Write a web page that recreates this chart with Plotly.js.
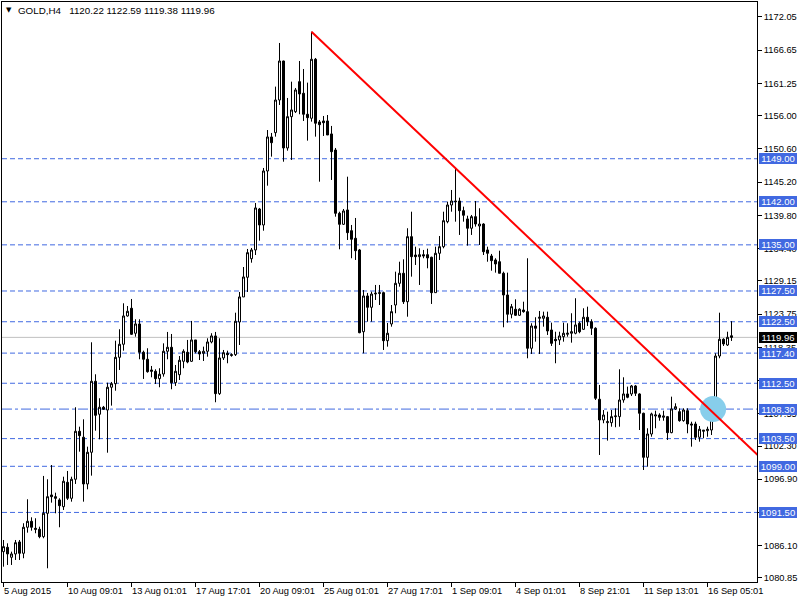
<!DOCTYPE html>
<html>
<head>
<meta charset="utf-8">
<script src="https://cdn.plot.ly/plotly-3.0.1.min.js"></script>
<style>html,body{margin:0;padding:0;background:#fff;}#chart{width:800px;height:600px;}</style>
</head>
<body>
<div id="chart"></div>
<script>
// ---- Data (GOLD, H4) ----
const openP = [1085.12,1085.83,1084.21,1084.75,1086.70,1084.86,1089.09,1090.06,1088.92,1088.76,
1087.56,1091.36,1094.34,1094.06,1093.53,1092.44,1096.40,1093.80,1096.89,1104.69,
1103.72,1096.13,1101.28,1112.82,1107.46,1108.60,1108.15,1111.85,1112.43,1116.72,
1118.84,1123.44,1124.69,1120.63,1122.14,1117.54,1116.40,1114.66,1114.45,1113.25,
1114.01,1117.70,1118.35,1112.59,1113.89,1116.07,1117.54,1116.07,1119.54,1117.63,
1117.37,1117.70,1119.21,1120.19,1110.81,1116.61,1117.37,1117.15,1117.15,1122.46,
1126.53,1129.73,1132.75,1134.17,1140.83,1138.23,1147.01,1152.54,1153.24,1158.55,
1164.89,1150.75,1155.84,1156.65,1161.53,1159.64,1156.23,1155.58,1165.17,1154.98,
1155.14,1155.14,1153.03,1150.42,1140.13,1138.34,1140.67,1137.30,1136.07,1134.17,
1120.88,1126.69,1124.85,1127.01,1127.23,1127.23,1119.42,1122.14,1125.22,1128.75,
1130.38,1125.76,1136.33,1133.35,1133.08,1133.40,1133.40,1132.98,1127.23,1133.63,
1134.70,1138.77,1141.48,1142.13,1142.13,1140.56,1139.21,1137.70,1139.58,1138.07,
1138.39,1134.17,1133.19,1132.54,1132.26,1130.38,1126.85,1123.72,1124.53,1123.55,
1124.41,1124.14,1118.19,1121.81,1123.06,1123.06,1123.23,1121.16,1119.65,1119.54,
1120.07,1120.46,1120.63,1120.63,1122.25,1121.27,1123.23,1122.51,1121.44,1109.90,
1106.53,1106.09,1106.09,1107.07,1107.07,1109.78,1110.76,1110.76,1112.06,1110.76,
1107.62,1100.46,1104.25,1107.18,1107.34,1106.97,1107.07,1104.47,1108.32,1107.88,
1106.42,1108.04,1105.88,1105.88,1103.72,1104.69,1104.79,1104.90,1108.27,1116.93,
1119.65,1118.72,1120.22];
const highP = [1087.02,1086.48,1085.12,1087.02,1087.02,1089.74,1093.64,1090.71,1090.55,1089.18,
1097.43,1096.89,1099.21,1094.71,1093.80,1097.31,1098.24,1097.31,1108.60,1105.44,
1106.64,1102.19,1119.16,1113.96,1110.06,1108.81,1112.59,1112.71,1119.42,1121.28,
1125.50,1125.06,1126.20,1122.90,1122.90,1117.80,1118.19,1115.31,1114.77,1114.94,
1118.99,1120.84,1120.51,1115.47,1116.93,1118.02,1119.54,1122.63,1119.54,1117.91,
1118.45,1119.81,1120.63,1120.84,1119.81,1117.91,1117.80,1117.37,1123.97,1127.34,
1131.40,1134.33,1134.49,1141.81,1141.00,1147.50,1153.67,1153.19,1160.72,1167.82,
1164.94,1158.88,1161.53,1160.50,1164.89,1163.59,1161.37,1169.66,1165.38,1155.30,
1155.95,1156.11,1154.33,1150.75,1140.39,1140.83,1146.08,1138.23,1139.37,1134.33,
1127.66,1127.18,1127.39,1128.48,1128.48,1127.39,1122.30,1125.22,1130.64,1132.26,
1132.65,1137.70,1140.39,1134.70,1134.44,1134.17,1134.38,1133.08,1134.70,1136.44,
1140.39,1142.02,1143.92,1147.45,1142.67,1141.21,1139.74,1139.86,1142.13,1140.95,
1138.51,1134.70,1133.52,1132.82,1134.05,1130.64,1130.48,1125.39,1126.15,1124.69,
1125.76,1132.82,1122.25,1123.23,1124.25,1124.14,1124.14,1122.35,1120.88,1120.88,
1122.35,1122.25,1123.88,1126.32,1122.51,1124.69,1124.95,1122.90,1121.60,1112.22,
1108.15,1107.88,1108.15,1108.43,1114.77,1113.47,1111.95,1112.22,1112.22,1110.87,
1107.72,1105.18,1107.72,1108.04,1107.62,1108.04,1107.18,1110.32,1109.24,1108.43,
1108.43,1108.43,1106.25,1106.25,1105.55,1104.90,1105.44,1108.43,1117.37,1123.97,
1119.81,1120.88,1122.59];
const lowP = [1082.68,1082.96,1082.96,1083.77,1083.77,1084.05,1088.21,1088.53,1088.11,1087.30,
1087.30,1082.42,1093.09,1091.36,1089.09,1091.90,1093.53,1093.25,1096.13,1101.38,
1093.25,1095.26,1097.48,1104.79,1103.39,1108.15,1101.21,1108.86,1111.29,1114.66,
1117.80,1123.33,1120.35,1120.07,1116.40,1113.20,1114.22,1113.47,1112.38,1111.85,
1113.57,1116.40,1111.52,1112.06,1113.03,1114.94,1115.75,1115.96,1117.37,1116.28,
1116.12,1116.82,1118.99,1109.41,1110.60,1116.28,1115.75,1116.82,1116.93,1118.72,
1126.53,1127.34,1132.10,1133.35,1135.68,1137.30,1144.62,1149.34,1152.59,1157.74,
1148.52,1150.31,1148.80,1156.44,1156.23,1155.14,1151.94,1155.03,1152.59,1145.27,
1152.70,1152.86,1145.55,1139.58,1134.28,1138.23,1135.79,1132.82,1132.54,1120.63,
1117.37,1122.51,1122.51,1126.04,1125.22,1117.91,1118.45,1121.70,1123.88,1128.20,
1125.39,1123.32,1129.83,1131.73,1128.48,1132.82,1131.19,1125.39,1127.23,1132.54,
1134.44,1138.51,1140.39,1138.77,1136.61,1138.77,1134.87,1136.61,1137.96,1134.98,
1133.35,1132.26,1130.80,1130.48,1130.38,1121.60,1122.35,1123.06,1123.44,1123.44,
1123.97,1116.56,1117.26,1119.26,1117.26,1121.70,1120.35,1118.56,1115.75,1118.72,
1119.26,1120.07,1119.10,1120.46,1120.63,1121.16,1121.81,1120.35,1109.78,1100.84,
1106.00,1103.17,1105.44,1105.35,1105.44,1109.34,1110.06,1110.43,1110.43,1104.90,
1098.40,1098.94,1103.81,1105.18,1106.41,1106.41,1103.28,1104.37,1108.15,1106.25,
1106.25,1104.37,1102.19,1103.28,1103.00,1103.55,1103.81,1104.09,1108.04,1116.56,
1118.56,1118.56,1119.38];
const closeP = [1085.94,1084.75,1084.75,1086.58,1084.86,1089.09,1090.06,1089.09,1088.76,1087.56,
1091.36,1094.06,1094.06,1093.80,1092.60,1096.57,1093.80,1096.89,1104.69,1103.98,
1096.13,1101.28,1112.82,1107.29,1108.60,1108.27,1111.85,1112.43,1116.72,1118.84,
1123.44,1124.20,1120.46,1122.14,1117.54,1116.40,1114.38,1114.45,1113.25,1113.96,
1117.70,1118.35,1112.59,1114.45,1116.24,1117.70,1115.96,1119.54,1117.63,1117.26,
1117.70,1119.21,1120.19,1110.81,1116.61,1117.47,1117.15,1117.05,1122.58,1126.53,
1129.78,1133.73,1134.17,1141.00,1138.23,1147.01,1152.54,1151.61,1158.55,1164.89,
1150.75,1155.84,1156.93,1160.18,1159.53,1156.23,1155.68,1165.17,1154.77,1154.54,
1154.86,1152.86,1150.15,1140.13,1138.34,1140.51,1136.98,1135.91,1134.05,1120.72,
1126.69,1124.85,1127.01,1127.13,1127.13,1119.42,1120.63,1124.14,1128.75,1130.38,
1125.76,1136.33,1133.08,1133.08,1133.40,1133.19,1132.87,1127.23,1133.63,1134.70,
1138.93,1141.48,1142.13,1142.02,1140.56,1139.81,1137.70,1139.58,1138.39,1138.39,
1133.89,1133.63,1132.43,1131.89,1130.38,1126.85,1123.72,1124.95,1123.55,1124.53,
1124.14,1118.19,1121.81,1121.44,1123.23,1123.44,1121.00,1118.99,1119.42,1120.19,
1120.63,1120.63,1120.88,1121.98,1120.88,1123.23,1122.51,1121.44,1110.06,1106.53,
1107.34,1106.25,1107.07,1107.18,1109.78,1110.76,1110.22,1112.06,1110.87,1107.62,
1100.46,1104.25,1107.51,1107.34,1106.97,1107.18,1104.47,1108.32,1108.69,1106.42,
1108.15,1105.88,1105.72,1103.72,1105.02,1104.86,1105.02,1108.27,1116.93,1119.65,
1118.89,1119.97,1119.96];

// x axis: bar index labels
const xTickIdx = [0,16,32,48,64,80,96,112,128,144,160,176];
const xTickText = ['5 Aug 2015','10 Aug 09:01','13 Aug 01:01','17 Aug 17:01','20 Aug 09:01',
  '25 Aug 01:01','27 Aug 17:01','1 Sep 09:01','4 Sep 01:01','8 Sep 21:01','11 Sep 13:01','16 Sep 05:01'];

// price scale
const yTickVals = [1172.05,1166.65,1161.25,1156.00,1150.60,1145.20,1139.80,1134.40,1129.15,
  1123.75,1118.35,1112.95,1107.55,1102.30,1096.90,1091.50,1086.10,1080.85];

// horizontal levels
const levels = [1149.00,1142.00,1135.00,1127.50,1122.50,1117.40,1112.50,1103.50,1099.00,1091.50];
const dashDotLevel = [1108.30];
const lastPrice = [1119.96];

// trend line anchors (bar index, price)
const trendIdx = [77,113];
const trendPrice = [1169.66,1147.45];
// highlight circle
const circleIdx = [177.4];
const circlePrice = [1108.30];

const title = 'GOLD,H4\u00a0\u00a0\u00a01120.22 1122.59 1119.38 1119.96';

// ---- Build ----
const xIdx = openP.map((_, i) => i);
const FONT = 'Liberation Sans, Arial, DejaVu Sans, sans-serif';
const BLUE = '#4169E1';
const xRange = [-0.375, 188.375];

const slope = (trendPrice[1]-trendPrice[0])/(trendIdx[1]-trendIdx[0]);
const trendEnd = 191;
const trendX = [trendIdx[0], trendEnd];
const trendY = [trendPrice[0], trendPrice[0] + slope*(trendEnd-trendIdx[0])];

const traces = [
  {type:'scatter', mode:'markers', x:circleIdx, y:circlePrice,
   marker:{size:26, color:'#87CEEB', line:{width:0}}, hoverinfo:'skip', showlegend:false},
  {type:'candlestick', x:xIdx, open:openP, high:highP, low:lowP, close:closeP,
   increasing:{fillcolor:'#ffffff', line:{color:'#000000', width:1}},
   decreasing:{fillcolor:'#000000', line:{color:'#000000', width:1}},
   whiskerwidth:0, hoverinfo:'skip', showlegend:false},
  {type:'scatter', mode:'lines', x:trendX, y:trendY,
   line:{color:'#ff0000', width:2}, hoverinfo:'skip', showlegend:false}
];

const shapes = [];
const annotations = [];
levels.forEach(v => {
  shapes.push({type:'line', xref:'paper', x0:0, x1:1, yref:'y', y0:v, y1:v, layer:'below',
    line:{color:BLUE, width:1, dash:'5px,3px'}});
});
dashDotLevel.forEach(v => {
  shapes.push({type:'line', xref:'paper', x0:0, x1:1, yref:'y', y0:v, y1:v, layer:'below',
    line:{color:BLUE, width:1, dash:'10px,3px,3px,3px'}});
});
lastPrice.forEach(v => {
  shapes.push({type:'line', xref:'paper', x0:0, x1:1, yref:'y', y0:v, y1:v, layer:'below',
    line:{color:'#c0c0c0', width:1}});
});

const priceLabel = (v, bg) => ({
  xref:'paper', x:1, xanchor:'left', xshift:2, yref:'y', y:v, yanchor:'middle',
  text:v.toFixed(2), showarrow:false, bgcolor:bg, borderpad:0, borderwidth:0,
  width:38, height:11, align:'center', font:{family:FONT, size:9.5, color:'#ffffff'}
});
levels.concat(dashDotLevel).forEach(v => annotations.push(priceLabel(v, BLUE)));
lastPrice.forEach(v => annotations.push(priceLabel(v, '#000000')));

xTickIdx.forEach((k, i) => {
  annotations.push({xref:'x', x:k, xanchor:'left', xshift:-2, yref:'paper', y:0, yanchor:'top', yshift:-2,
    text:xTickText[i], showarrow:false, font:{family:FONT, size:9.3, color:'#000000'}});
});

annotations.push({xref:'paper', x:0, xanchor:'left', xshift:2, yref:'paper', y:1, yanchor:'middle', yshift:-8,
  text:'\u25BC', showarrow:false, font:{family:'DejaVu Sans', size:7, color:'#000000'}});
annotations.push({xref:'paper', x:0, xanchor:'left', xshift:14, yref:'paper', y:1, yanchor:'middle', yshift:-8,
  text:title, showarrow:false, font:{family:FONT, size:9.8, color:'#000000'}});

// tick label hidden under the 1091.50 level box in the reference
const yTickText = yTickVals.map(v => levels.includes(v) ? '' : v.toFixed(2));

const layout = {
  width:800, height:600,
  margin:{l:2, r:43, t:2, b:18, pad:0},
  paper_bgcolor:'#ffffff', plot_bgcolor:'#ffffff',
  showlegend:false,
  boxgap:0.5, boxgroupgap:0,
  xaxis:{range:xRange, showgrid:false, zeroline:false, showline:true, mirror:true,
    linecolor:'#000000', linewidth:1, ticks:'outside', ticklen:4, tickcolor:'#000000',
    tickvals:xTickIdx, showticklabels:false, rangeslider:{visible:false}, fixedrange:true},
  yaxis:{side:'right', range:[1080.19, 1174.48], showgrid:false, zeroline:false, showline:true, mirror:true,
    linecolor:'#000000', linewidth:1, ticks:'outside', ticklen:4, tickcolor:'#000000',
    tickvals:yTickVals, ticktext:yTickText,
    tickfont:{family:FONT, size:9.3, color:'#000000'}, fixedrange:true},
  shapes:shapes,
  annotations:annotations
};

Plotly.newPlot('chart', traces, layout, {displayModeBar:false, staticPlot:true});
</script>
</body>
</html>
